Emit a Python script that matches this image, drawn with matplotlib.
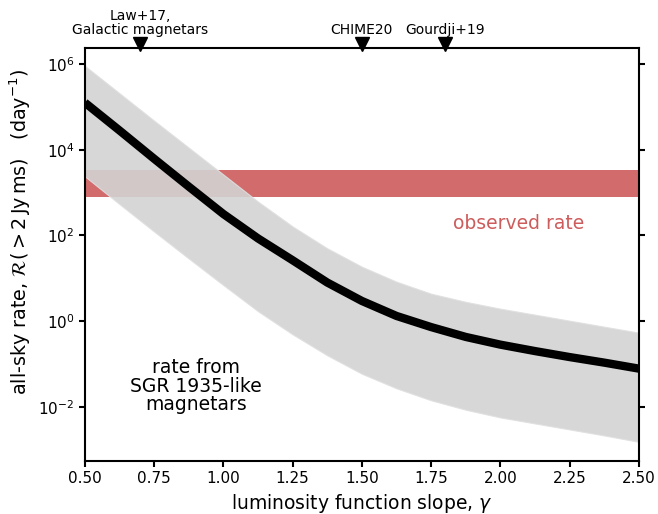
import numpy as np
import matplotlib
matplotlib.use("Agg")
import matplotlib.pyplot as plt
from matplotlib.ticker import NullLocator

# values (log10 of the rate, per day)
gamma = [0.500, 0.625, 0.750, 0.875, 1.000, 1.125, 1.250, 1.375, 1.500,
         1.625, 1.750, 1.875, 2.000, 2.125, 2.250, 2.375, 2.500]
log_rate_mid = [5.10, 4.45, 3.79, 3.14, 2.50, 1.93, 1.42, 0.90, 0.47,
                0.12, -0.14, -0.37, -0.55, -0.70, -0.84, -0.97, -1.11]
log_rate_hi = [5.96, 5.32, 4.68, 4.05, 3.42, 2.79, 2.21, 1.70, 1.27,
               0.92, 0.64, 0.45, 0.29, 0.15, 0.01, -0.13, -0.27]
log_rate_lo = [3.38, 2.73, 2.09, 1.46, 0.84, 0.23, -0.31, -0.80, -1.23,
               -1.57, -1.85, -2.07, -2.25, -2.39, -2.53, -2.67, -2.82]

obs_rate_lo = 7.8e2
obs_rate_hi = 3.3e3

ref_names = ["Law+17,\nGalactic magnetars", "CHIME20", "Gourdji+19"]
ref_gamma = [0.7, 1.5, 1.8]

g = np.array(gamma)
mid = 10 ** np.array(log_rate_mid)
hi = 10 ** np.array(log_rate_hi)
lo = 10 ** np.array(log_rate_lo)

fig = plt.figure(figsize=(6.58, 5.14), dpi=100)
ax = fig.add_axes([0.129, 0.103, 0.842, 0.804])

# observed rate band
ax.axhspan(obs_rate_lo, obs_rate_hi, color="indianred", alpha=0.9, lw=0)
ax.text(2.065, 185, "observed rate", color="indianred", fontsize=13.5,
        ha="center", va="center")

# model band + median curve
ax.fill_between(g, lo, hi, color="lightgray", alpha=0.9, lw=0.8, edgecolor="#e0e0e0")
ax.plot(g, mid, color="black", lw=6, solid_capstyle="butt", solid_joinstyle="round")
ax.text(0.90, 0.03, "rate from\nSGR 1935-like\nmagnetars", fontsize=13.5,
        ha="center", va="center", linespacing=0.97)

ax.set_yscale("log")
ax.set_xlim(0.5, 2.5)
ax.set_ylim(5.4e-4, 2.4e6)
ax.set_yticks([1e-2, 1e0, 1e2, 1e4, 1e6])
ax.yaxis.set_minor_locator(NullLocator())

# reference markers on top of the axes
xtrans = ax.get_xaxis_transform()
for name, gx in zip(ref_names, ref_gamma):
    ax.plot([gx], [1.008], marker="v", color="black", markersize=10,
            transform=xtrans, clip_on=False, zorder=10)
    ax.text(gx, 1.026, name, transform=xtrans, ha="center", va="bottom",
            fontsize=10, linespacing=1.0)

ax.set_xlabel(r"luminosity function slope, $\gamma$", fontsize=13.5)
ax.set_ylabel(r"all-sky rate, $\mathcal{R}(>2\,\mathrm{Jy\,ms})$   (day$^{-1}$)",
              fontsize=13.8)
ax.yaxis.label.set_y(0.556)

for s in ax.spines.values():
    s.set_linewidth(1.5)
ax.tick_params(axis="both", which="major", direction="out", length=4,
               width=1.5, labelsize=11)
ax.tick_params(axis="y", right=True)

fig.savefig("out.png", dpi=100)
